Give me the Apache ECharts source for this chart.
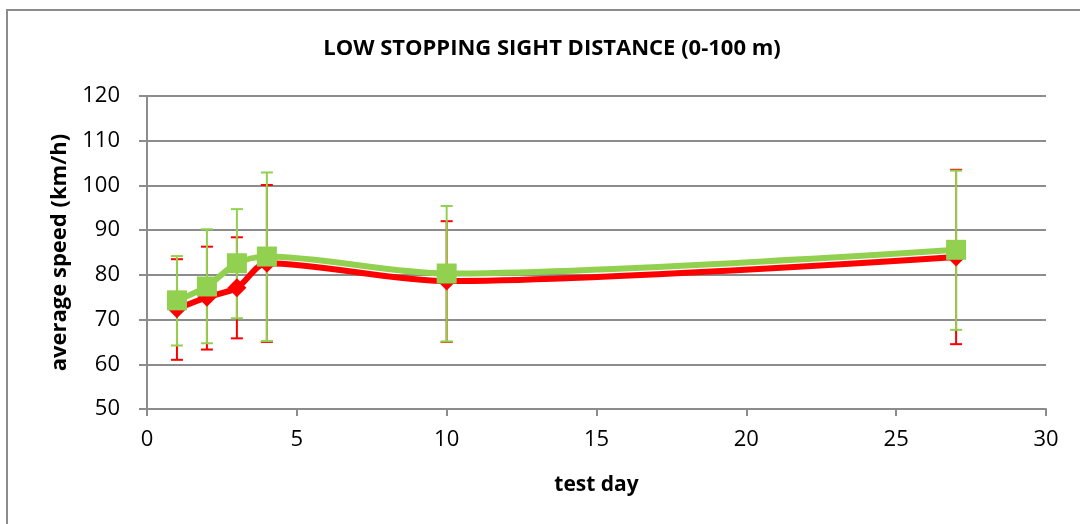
<!DOCTYPE html>
<html>
<head>
<meta charset="utf-8">
<script src="https://cdn.jsdelivr.net/npm/echarts@6/dist/echarts.min.js"></script>
<style>html,body{margin:0;padding:0;background:#fff;}#c{width:1080px;height:524px;}</style>
</head>
<body>
<div id="c"></div>
<script>
const days = [1, 2, 3, 4, 10, 27];
const redMean = [72.4, 75.0, 77.1, 82.6, 78.6, 84.0];
const redLow = [61.0, 63.3, 65.8, 65.0, 65.0, 64.5];
const redHigh = [83.5, 86.3, 88.4, 100.1, 92.0, 103.5];
const greenMean = [74.3, 77.4, 82.6, 84.1, 80.3, 85.6];
const greenLow = [64.2, 64.7, 70.3, 65.2, 65.1, 67.7];
const greenHigh = [84.2, 90.2, 94.7, 102.9, 95.4, 103.3];
const titleText = 'LOW STOPPING SIGHT DISTANCE (0-100 m)';
const xName = 'test day';
const yName = 'average speed (km/h)';

const FONT = '"Open Sans", "Noto Sans", sans-serif';
const RED = '#FF0000';
const GREEN = '#92D050';
const GRAY = '#8c8c8c';

function errData(lo, hi) {
  return days.map((d, i) => [d, lo[i], hi[i]]);
}
function errRender(color) {
  return function (params, api) {
    const x = api.value(0);
    const lo = api.coord([x, api.value(1)]);
    const hi = api.coord([x, api.value(2)]);
    const hw = 6;
    const style = { stroke: color, lineWidth: 2, fill: null };
    return {
      type: 'group',
      children: [
        { type: 'line', shape: { x1: lo[0], y1: lo[1], x2: hi[0], y2: hi[1] }, style },
        { type: 'line', shape: { x1: lo[0] - hw, y1: lo[1], x2: lo[0] + hw, y2: lo[1] }, style },
        { type: 'line', shape: { x1: hi[0] - hw, y1: hi[1], x2: hi[0] + hw, y2: hi[1] }, style }
      ]
    };
  };
}

const chart = echarts.init(document.getElementById('c'), null, { renderer: 'canvas' });
chart.setOption({
  animation: false,
  backgroundColor: '#fff',
  title: {
    text: titleText,
    left: 547,
    textAlign: 'center',
    top: 33,
    textStyle: { fontFamily: FONT, fontWeight: 'bold', fontSize: 22, color: '#000' }
  },
  graphic: [{
    type: 'rect',
    shape: { x: 7, y: 10, width: 1100, height: 600 },
    style: { fill: null, stroke: GRAY, lineWidth: 2 },
    silent: true
  }],
  grid: { left: 147, right: 34, top: 96, bottom: 115 },
  xAxis: {
    type: 'value', min: 0, max: 30, interval: 5,
    name: xName, nameLocation: 'middle', nameGap: 66,
    nameTextStyle: { fontFamily: FONT, fontWeight: 'bold', fontSize: 21, color: '#000' },
    axisLine: { show: true, onZero: false, lineStyle: { color: GRAY, width: 2 } },
    axisTick: { show: true, length: 7, lineStyle: { color: GRAY, width: 2 } },
    axisLabel: { margin: 20, fontFamily: FONT, fontSize: 22, color: '#000' },
    splitLine: { show: false }
  },
  yAxis: {
    type: 'value', min: 50, max: 120, interval: 10,
    name: yName, nameLocation: 'middle', nameGap: 76, nameRotate: 90,
    nameTextStyle: { fontFamily: FONT, fontWeight: 'bold', fontSize: 22, color: '#000' },
    axisLine: { show: true, lineStyle: { color: GRAY, width: 2 } },
    axisTick: { show: true, length: 8, lineStyle: { color: GRAY, width: 2 } },
    axisLabel: { margin: 27, fontFamily: FONT, fontSize: 22, color: '#000' },
    splitLine: { show: true, lineStyle: { color: GRAY, width: 2 } }
  },
  series: [
    {
      type: 'custom', name: 'red err', z: 2,
      renderItem: errRender(RED),
      data: errData(redLow, redHigh)
    },
    {
      type: 'custom', name: 'green err', z: 3,
      renderItem: errRender(GREEN),
      data: errData(greenLow, greenHigh)
    },
    {
      type: 'line', name: 'red', z: 4,
      data: days.map((d, i) => [d, redMean[i]]),
      smooth: 0.3,
      lineStyle: { color: RED, width: 6 },
      itemStyle: { color: RED },
      symbol: 'diamond', symbolSize: [19, 19],
      showSymbol: true
    },
    {
      type: 'line', name: 'green', z: 5,
      data: days.map((d, i) => [d, greenMean[i]]),
      smooth: 0.3,
      lineStyle: { color: GREEN, width: 6 },
      itemStyle: { color: GREEN },
      symbol: 'rect', symbolSize: 20,
      showSymbol: true
    }
  ]
});
</script>
</body>
</html>
